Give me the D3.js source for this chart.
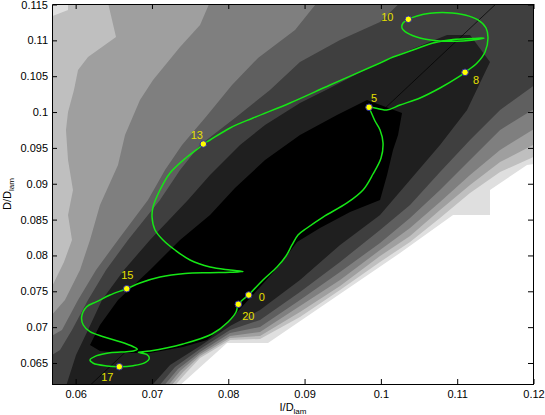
<!DOCTYPE html>
<html><head><meta charset="utf-8">
<script src="https://cdn.jsdelivr.net/npm/d3@7"></script>
<style>body{margin:0;background:#fff}svg{display:block}</style>
</head><body>
<svg id="chart" width="545" height="415"></svg>
<script>
// ---------------- data ----------------
const xDomain = [0.0569, 0.12];
const yDomain = [0.062, 0.115];
const xTicks = [0.06, 0.07, 0.08, 0.09, 0.1, 0.11, 0.12];
const xTickLabels = ["0.06","0.07","0.08","0.09","0.1","0.11","0.12"];
const yTicks = [0.065,0.07,0.075,0.08,0.085,0.09,0.095,0.1,0.105,0.11,0.115];
const yTickLabels = ["0.065","0.07","0.075","0.08","0.085","0.09","0.095","0.1","0.105","0.11","0.115"];

// filled contour levels: upper-left boundary and lower-right boundary of each region (I/D, D/D)
const contourUpper1 = [[0.0590,0.115],[0.0590,0.11423],[0.0569,0.11256]];
const contourLower1 = [[0.07145,0.062],[0.07446,0.06361],[0.0763,0.0657],[0.08023,0.06821],[0.08416,0.06835],[0.0894,0.07142],[0.09465,0.07518],[0.09989,0.07909],[0.10382,0.08188],[0.10775,0.08522],[0.11168,0.08871],[0.11562,0.09164],[0.12,0.09471]];
const contourUpper2 = [[0.06385,0.115],[0.06529,0.11047],[0.06162,0.10768],[0.06031,0.10586],[0.05978,0.10308],[0.0590,0.10001],[0.05873,0.0975],[0.0590,0.09331],[0.05965,0.08913],[0.0590,0.08564],[0.05952,0.08216],[0.05847,0.07909],[0.0569,0.07128]];
const contourLower2 = [[0.07105,0.062],[0.07407,0.06375],[0.0763,0.06598],[0.08023,0.06849],[0.08416,0.06877],[0.0894,0.07211],[0.09465,0.07574],[0.09989,0.07992],[0.10382,0.08271],[0.10775,0.08634],[0.11168,0.08983],[0.11562,0.09303],[0.12,0.09652]];
const contourUpper3 = [[0.07826,0.115],[0.0763,0.11214],[0.07368,0.10907],[0.07014,0.10447],[0.06843,0.10168],[0.06647,0.0968],[0.06555,0.09262],[0.06319,0.08704],[0.06188,0.08216],[0.06057,0.07797],[0.0586,0.07379],[0.0569,0.06933]];
const contourLower3 = [[0.07066,0.062],[0.07368,0.06389],[0.0763,0.06626],[0.08023,0.06877],[0.08416,0.06933],[0.0894,0.07295],[0.09465,0.07658],[0.09989,0.08076],[0.10382,0.08383],[0.10775,0.08745],[0.11168,0.09122],[0.11562,0.09471],[0.12,0.09889]];
const contourUpper4 = [[0.09294,0.115],[0.08875,0.11144],[0.0839,0.10754],[0.08049,0.10377],[0.07695,0.09917],[0.07394,0.09541],[0.07171,0.09192],[0.06948,0.08773],[0.06555,0.08216],[0.06267,0.07797],[0.06031,0.07379],[0.05821,0.06961],[0.0569,0.06752]];
const contourLower4 = [[0.07014,0.062],[0.07341,0.06417],[0.0763,0.06654],[0.08023,0.06919],[0.08416,0.07002],[0.0894,0.07379],[0.09465,0.07769],[0.09989,0.08174],[0.10382,0.08522],[0.10775,0.08913],[0.11168,0.09331],[0.11562,0.0975],[0.12,0.10168]];
const contourUpper5 = [[0.10421,0.115],[0.09989,0.11256],[0.09465,0.11005],[0.0894,0.10698],[0.08547,0.10308],[0.08088,0.09917],[0.0763,0.09541],[0.07368,0.09192],[0.07105,0.08773],[0.06686,0.08216],[0.06398,0.07797],[0.06162,0.07379],[0.05952,0.06961],[0.05795,0.06682],[0.0569,0.06473]];
const contourLower5 = [[0.06948,0.062],[0.07302,0.06445],[0.0763,0.06696],[0.08023,0.06961],[0.08416,0.071],[0.0894,0.0749],[0.09465,0.07909],[0.09989,0.08355],[0.10382,0.08704],[0.10775,0.09164],[0.11168,0.0961],[0.11562,0.10029],[0.12,0.10517]];
const contourUpper6 = [[0.10867,0.11075],[0.09989,0.10698],[0.09334,0.10335],[0.0894,0.10126],[0.08482,0.0982],[0.08154,0.09541],[0.07761,0.09122],[0.07472,0.08773],[0.06974,0.08216],[0.06634,0.07797],[0.06345,0.07379],[0.06162,0.06961],[0.06005,0.06612],[0.05821,0.062]];
const contourLower6 = [[0.06843,0.062],[0.07237,0.06473],[0.0763,0.06738],[0.08023,0.07016],[0.08416,0.07239],[0.0894,0.07658],[0.09465,0.08146],[0.09989,0.08564],[0.10382,0.09052],[0.10775,0.09541],[0.11129,0.10029],[0.1143,0.10698],[0.11168,0.11075]];
const contourUpper7 = [[0.10277,0.09987],[0.09818,0.10168],[0.09425,0.09959],[0.0894,0.0968],[0.08482,0.09331],[0.08088,0.08941],[0.07761,0.08564],[0.07368,0.08216],[0.06974,0.07797],[0.06555,0.07379],[0.06319,0.0703],[0.06188,0.06752]];
const contourLower7 = [[0.06319,0.06668],[0.06581,0.0664],[0.06974,0.0664],[0.07407,0.06723],[0.07721,0.06821],[0.08023,0.071],[0.08416,0.0756],[0.08678,0.07867],[0.08901,0.08188],[0.09202,0.08383],[0.09596,0.08606],[0.09989,0.08773],[0.10081,0.09122],[0.10159,0.09471],[0.10225,0.0968]];
// region without data (drawn white)
const noDataRegion = [[0.07171,0.062],[0.07984,0.0678],[0.08521,0.0678],[0.10251,0.08034],[0.10946,0.08564],[0.1143,0.08564],[0.1143,0.08913],[0.11915,0.09262],[0.12,0.09303],[0.12,0.062]];
// diagonal reference line I = D
const diagonal = [[0.062,0.062],[0.115,0.115]];

// trajectory
const trajectory = [[0.08268,0.07448],[0.08455,0.07658],[0.08639,0.07839],[0.08757,0.07992],[0.08835,0.08146],[0.08914,0.08285],[0.09032,0.08383],[0.09242,0.08536],[0.09556,0.08732],[0.09766,0.08913],[0.09897,0.09136],[0.10002,0.09359],[0.10028,0.09568],[0.09989,0.0975],[0.09923,0.09875],[0.09871,0.10001],[0.09845,0.10066],
 [0.10077,0.10029],[0.10251,0.10098],[0.10513,0.10196],[0.10775,0.10335],[0.10998,0.10475],[0.11103,0.10554],
 [0.1126,0.10684],[0.11365,0.10838],[0.11404,0.11033],[0.11378,0.11172],[0.11273,0.11284],[0.11103,0.11354],[0.10867,0.11386],[0.10644,0.11377],[0.10474,0.1134],[0.1036,0.11294],
 [0.1029,0.11242],[0.10277,0.11172],[0.10343,0.11103],[0.10513,0.11033],[0.10775,0.10991],[0.11077,0.10991],[0.11299,0.11019],[0.11352,0.11033],
 [0.11208,0.11026],[0.10946,0.11012],[0.10683,0.10963],[0.10421,0.10865],[0.10159,0.10768],[0.09989,0.10684],[0.09334,0.10377],[0.08809,0.10126],[0.08324,0.09917],[0.08023,0.09778],[0.07761,0.0961],[0.07673,0.09554],
 [0.0763,0.09513],[0.07459,0.09373],[0.07237,0.0915],[0.07105,0.08913],[0.07014,0.08676],[0.07001,0.08536],[0.0704,0.08355],[0.07145,0.08216],[0.07302,0.08076],[0.07499,0.07937],[0.07761,0.07839],[0.08023,0.07797],[0.08193,0.07776],
 [0.08023,0.07765],[0.07761,0.07759],[0.07433,0.07748],[0.07105,0.07699],[0.06843,0.07616],[0.06669,0.07536],
 [0.0645,0.07448],[0.06276,0.07355],[0.06145,0.07285],[0.06079,0.07146],[0.061,0.0703],[0.06188,0.06937],[0.06362,0.06867],[0.06581,0.06797],[0.06756,0.06727],[0.06808,0.06691],[0.06756,0.06667],[0.06669,0.06658],[0.0645,0.06644],[0.06276,0.06602],[0.06188,0.06542],[0.06231,0.06496],[0.06407,0.06458],[0.06572,0.06448],
 [0.06756,0.06462],[0.06909,0.06504],[0.06965,0.06566],[0.06931,0.06621],[0.06821,0.06649],[0.06974,0.06667],[0.07407,0.06765],[0.07787,0.06904],[0.07997,0.07072],[0.08102,0.07211],[0.08132,0.07319],[0.08268,0.07448]];

const markerLabels = ["0","5","8","10","13","15","17","20"];
const markerX = [0.08268,0.09845,0.11103,0.1036,0.07673,0.06669,0.06572,0.08132];
const markerY = [0.07448,0.10066,0.10554,0.11294,0.09554,0.07536,0.06448,0.07319];

// ---------------- layout / style ----------------
const levelColors = ["#dfdfdf","#bfbfbf","#9f9f9f","#7f7f7f","#5f5f5f","#3f3f3f","#1f1f1f","#000000"];
const labelOffsets = {"0":[13,5.5],"5":[5,-5],"8":[11,11.5],"10":[-21,1.5],"13":[-6.5,-5],"15":[0.6,-9.5],"17":[-12,14],"20":[10,16]};
const FONT = "'Liberation Sans', Arial, Helvetica, sans-serif";

const svg = d3.select("#chart");
const x = d3.scaleLinear().domain(xDomain).range([52, 533.5]);
const y = d3.scaleLinear().domain(yDomain).range([384.5, 4.5]);

svg.append("defs").append("clipPath").attr("id","plotclip")
  .append("rect").attr("x",52).attr("y",4.5).attr("width",481.5).attr("height",380);

const plot = svg.append("g").attr("clip-path","url(#plotclip)");
const line = d3.line().x(d=>x(d[0])).y(d=>y(d[1]));

plot.append("rect").attr("x",52).attr("y",4.5).attr("width",481.5).attr("height",380).attr("fill",levelColors[0]);

const uppers = [contourUpper1,contourUpper2,contourUpper3,contourUpper4,contourUpper5,contourUpper6,contourUpper7];
const lowers = [contourLower1,contourLower2,contourLower3,contourLower4,contourLower5,contourLower6,contourLower7];
uppers.forEach((up,i)=>{
  const lo = lowers[i];
  let pts = up.slice();
  if (up[up.length-1][0] <= xDomain[0]) pts.push([xDomain[0], yDomain[0]]);
  pts = pts.concat(lo);
  if (lo[lo.length-1][0] >= xDomain[1]) pts.push([xDomain[1], yDomain[1]]);
  // push edge points slightly outside so fills reach the plot border
  const ext = pts.map(p=>[
    p[0] <= xDomain[0] ? xDomain[0]-0.002 : (p[0] >= xDomain[1] ? xDomain[1]+0.002 : p[0]),
    p[1] <= yDomain[0] ? yDomain[0]-0.002 : (p[1] >= yDomain[1] ? yDomain[1]+0.002 : p[1])]);
  plot.append("path").attr("d", line(ext)+"Z").attr("fill", levelColors[i+1]).attr("stroke","none");
});

const nd = noDataRegion.map(p=>[
  p[0] >= xDomain[1] ? xDomain[1]+0.002 : p[0],
  p[1] <= yDomain[0] ? yDomain[0]-0.002 : p[1]]);
plot.append("path").attr("d", line(nd)+"Z").attr("fill","#ffffff");

plot.append("path").attr("d", line(diagonal)).attr("stroke","#000").attr("stroke-width",0.7).attr("fill","none");

plot.append("path")
  .attr("d", d3.line().x(d=>x(d[0])).y(d=>y(d[1])).curve(d3.curveCatmullRom.alpha(0.5))(trajectory))
  .attr("fill","none").attr("stroke","#16e616").attr("stroke-width",1.5);

const mk = markerLabels.map((l,i)=>({label:l, x:markerX[i], y:markerY[i]}));
plot.selectAll("circle.m").data(mk).join("circle").attr("class","m")
  .attr("cx",d=>x(d.x)).attr("cy",d=>y(d.y)).attr("r",3.3)
  .attr("fill","#ffff00").attr("stroke","#2a2aa8").attr("stroke-width",1);
svg.selectAll("text.ml").data(mk).join("text").attr("class","ml")
  .attr("x",d=>x(d.x)+labelOffsets[d.label][0]).attr("y",d=>y(d.y)+labelOffsets[d.label][1])
  .attr("text-anchor","middle").attr("font-family",FONT).attr("font-size",11)
  .attr("fill","#e6e000").text(d=>d.label);

// axes
function styleAxis(g){
  g.attr("font-family",FONT).attr("font-size",11);
  g.selectAll("path,line").attr("stroke","#000");
  g.selectAll("text").attr("fill","#000");
}
svg.append("g").attr("transform","translate(0,384)")
  .call(d3.axisBottom(x).tickValues(xTicks).tickFormat((d,i)=>xTickLabels[i]).tickSizeInner(-5).tickSizeOuter(0).tickPadding(6))
  .call(styleAxis);
svg.append("g").attr("transform","translate(0,4)")
  .call(d3.axisTop(x).tickValues(xTicks).tickFormat("").tickSizeInner(-5).tickSizeOuter(0))
  .call(styleAxis);
svg.append("g").attr("transform","translate(52,0)")
  .call(d3.axisLeft(y).tickValues(yTicks).tickFormat((d,i)=>yTickLabels[i]).tickSizeInner(-5).tickSizeOuter(0).tickPadding(4))
  .call(styleAxis);
svg.append("g").attr("transform","translate(533,0)")
  .call(d3.axisRight(y).tickValues(yTicks).tickFormat("").tickSizeInner(-5).tickSizeOuter(0))
  .call(styleAxis);

// axis titles
const xt = svg.append("text").attr("x",293).attr("y",411).attr("text-anchor","middle")
  .attr("font-family",FONT).attr("font-size",11).attr("fill","#000");
xt.append("tspan").text("I/D");
xt.append("tspan").attr("font-size",8).attr("dy",3).text("lam");
const yt = svg.append("text").attr("transform","translate(11,194) rotate(-90)").attr("text-anchor","middle")
  .attr("font-family",FONT).attr("font-size",11).attr("fill","#000");
yt.append("tspan").text("D/D");
yt.append("tspan").attr("font-size",8).attr("dy",3).text("lam");
</script>
</body></html>
